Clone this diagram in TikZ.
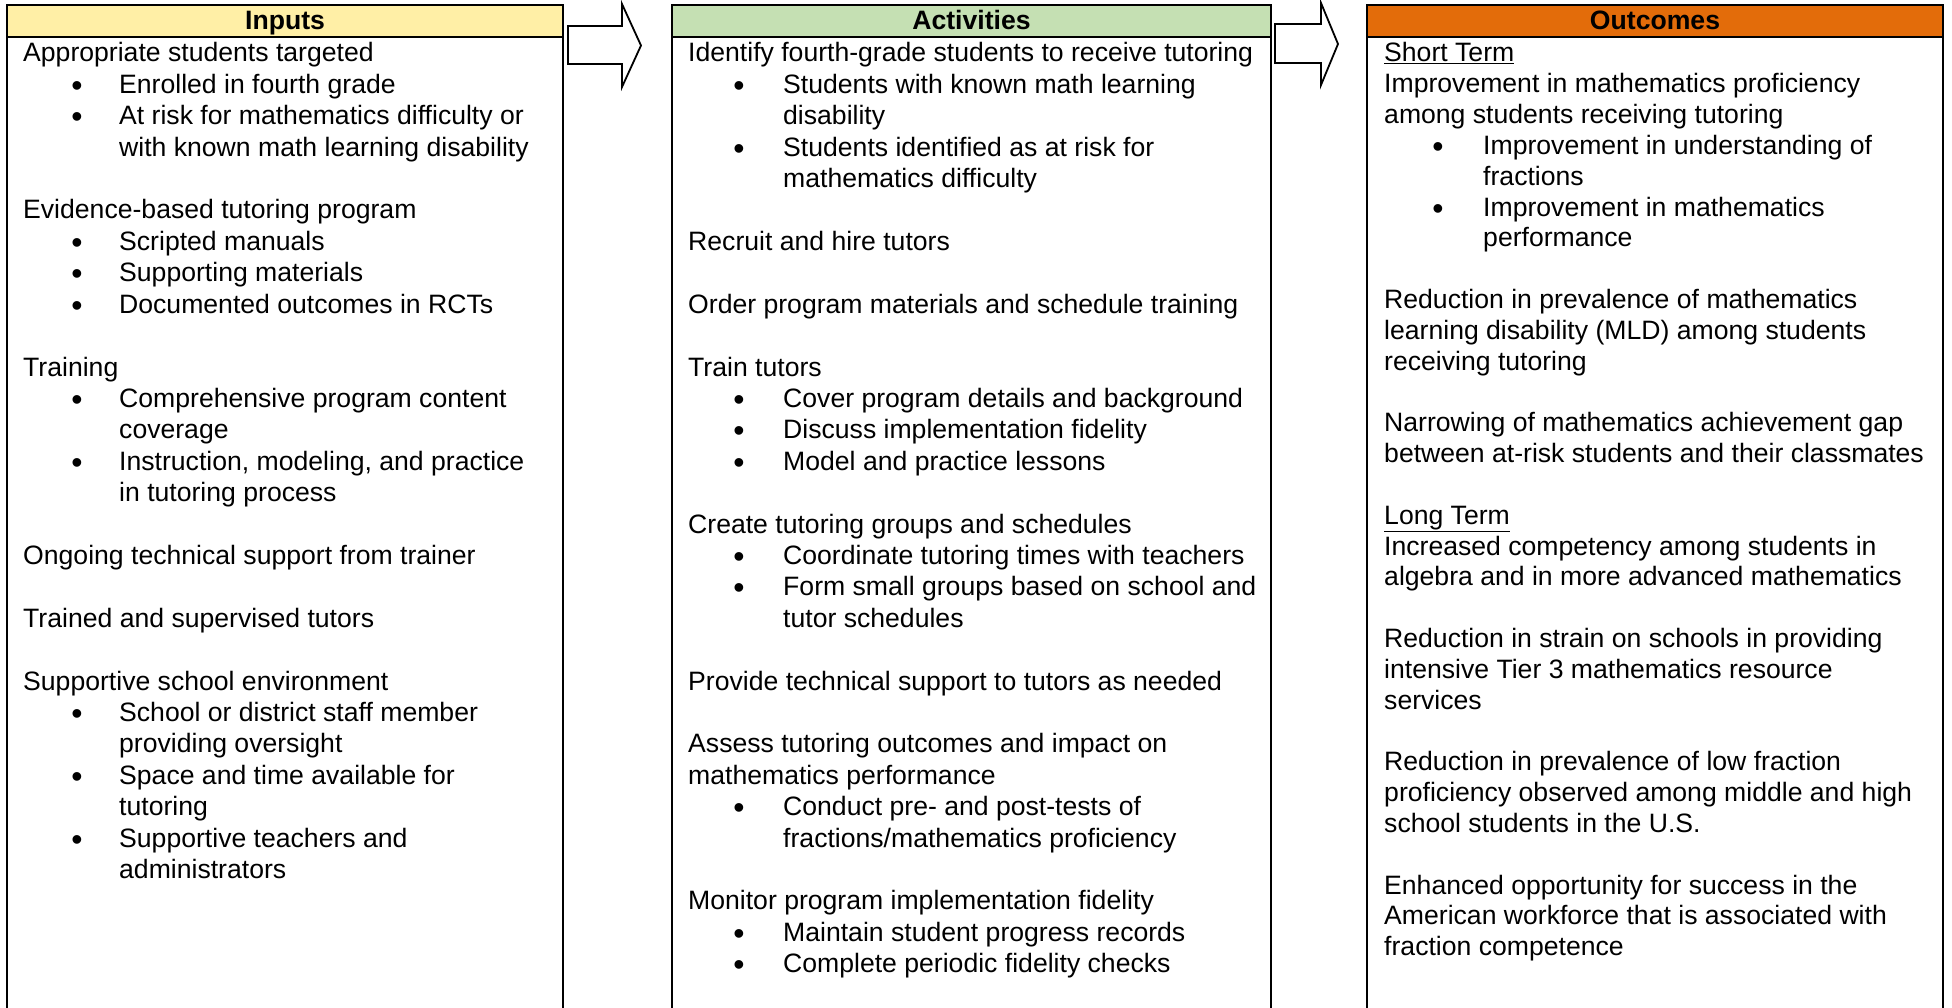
\documentclass[tikz,border=0pt]{standalone}
\usepackage{fontspec}
\setmainfont{Liberation Sans}
\newcommand\bodyfont{\fontsize{26.6pt}{31.4pt}\selectfont}
\newcommand\bulfont{\fontsize{32pt}{31.4pt}\selectfont}
\definecolor{hdrYellow}{HTML}{FFEFA6}
\definecolor{hdrGreen}{HTML}{C5E0B3}
\definecolor{hdrOrange}{HTML}{E36C0A}
\tikzset{
  txt/.style={anchor=base west, inner sep=0pt, font=\bodyfont},
  bul/.style={anchor=base, inner sep=0pt, font=\bulfont},
  hdrtxt/.style={anchor=base, inner sep=0pt, font=\bodyfont\bfseries},
  boxline/.style={draw=black, line width=2pt},
  blockarrow/.style={draw=black, fill=white, line width=1.8pt, line join=miter},
}
% line helpers: name, line index, text
\newcommand\Pl[3]{\node[txt] (#1) at (\cx,{\yo+\pitch*#2}) {#3};}
\newcommand\Bl[3]{\node[bul] (#1b) at (\bx,{\yo+\pitch*#2+3}) {\textbullet};
  \node[txt] (#1) at (\tx,{\yo+\pitch*#2}) {#3};}
\newcommand\Cl[3]{\node[txt] (#1) at (\tx,{\yo+\pitch*#2}) {#3};}
\begin{document}
\begin{tikzpicture}[x=1pt,y=-1pt]
\useasboundingbox (0,0) rectangle (1952,1008);
\fill[white] (0,0) rectangle (1952,1008);

% ---------- column frames ----------
\draw[boxline, fill=hdrYellow] (7,5) rectangle (563,37);
\draw[boxline] (7,37) -- (7,1015) (563,37) -- (563,1015);
\draw[boxline, fill=hdrGreen] (672,5) rectangle (1271,37);
\draw[boxline] (672,37) -- (672,1015) (1271,37) -- (1271,1015);
\draw[boxline, fill=hdrOrange] (1367,5) rectangle (1943,37);
\draw[boxline] (1367,37) -- (1367,1015) (1943,37) -- (1943,1015);

\node[hdrtxt] (hIn) at (285,30) {Inputs};
\node[hdrtxt] (hAct) at (971.5,30) {Activities};
\node[hdrtxt] (hOut) at (1655,30) {Outcomes};

% ---------- block arrows ----------
\draw[blockarrow] (568,26) -- (622,26) -- (622,4) -- (641,45.5) -- (622,87)
  -- (622,64) -- (568,64) -- cycle;
\draw[blockarrow] (1275,24) -- (1321,24) -- (1321,3) -- (1338,44) -- (1321,85)
  -- (1321,63) -- (1275,63) -- cycle;

% ---------- Inputs ----------
\def\cx{23}\def\bx{77}\def\tx{119}\def\yo{62}\def\pitch{31.4}
\Pl{i0}{0}{Appropriate students targeted}
\Bl{i1}{1}{Enrolled in fourth grade}
\Bl{i2}{2}{At risk for mathematics difficulty or}
\Cl{i3}{3}{with known math learning disability}
\Pl{i5}{5}{Evidence-based tutoring program}
\Bl{i6}{6}{Scripted manuals}
\Bl{i7}{7}{Supporting materials}
\Bl{i8}{8}{Documented outcomes in RCTs}
\Pl{i10}{10}{Training}
\Bl{i11}{11}{Comprehensive program content}
\Cl{i12}{12}{coverage}
\Bl{i13}{13}{Instruction, modeling, and practice}
\Cl{i14}{14}{in tutoring process}
\Pl{i16}{16}{Ongoing technical support from trainer}
\Pl{i18}{18}{Trained and supervised tutors}
\Pl{i20}{20}{Supportive school environment}
\Bl{i21}{21}{School or district staff member}
\Cl{i22}{22}{providing oversight}
\Bl{i23}{23}{Space and time available for}
\Cl{i24}{24}{tutoring}
\Bl{i25}{25}{Supportive teachers and}
\Cl{i26}{26}{administrators}

% ---------- Activities ----------
\def\cx{688}\def\bx{739}\def\tx{783}\def\yo{62}\def\pitch{31.4}
\Pl{a0}{0}{Identify fourth-grade students to receive tutoring}
\Bl{a1}{1}{Students with known math learning}
\Cl{a2}{2}{disability}
\Bl{a3}{3}{Students identified as at risk for}
\Cl{a4}{4}{mathematics difficulty}
\Pl{a6}{6}{Recruit and hire tutors}
\Pl{a8}{8}{Order program materials and schedule training}
\Pl{a10}{10}{Train tutors}
\Bl{a11}{11}{Cover program details and background}
\Bl{a12}{12}{Discuss implementation fidelity}
\Bl{a13}{13}{Model and practice lessons}
\Pl{a15}{15}{Create tutoring groups and schedules}
\Bl{a16}{16}{Coordinate tutoring times with teachers}
\Bl{a17}{17}{Form small groups based on school and}
\Cl{a18}{18}{tutor schedules}
\Pl{a20}{20}{Provide technical support to tutors as needed}
\Pl{a22}{22}{Assess tutoring outcomes and impact on}
\Pl{a23}{23}{mathematics performance}
\Bl{a24}{24}{Conduct pre- and post-tests of}
\Cl{a25}{25}{fractions/mathematics proficiency}
\Pl{a27}{27}{Monitor program implementation fidelity}
\Bl{a28}{28}{Maintain student progress records}
\Bl{a29}{29}{Complete periodic fidelity checks}

% ---------- Outcomes ----------
\def\cx{1384}\def\bx{1438}\def\tx{1483}\def\yo{62}\def\pitch{30.82}
\Pl{o0}{0}{\underline{Short Term}}
\Pl{o1}{1}{Improvement in mathematics proficiency}
\Pl{o2}{2}{among students receiving tutoring}
\Bl{o3}{3}{Improvement in understanding of}
\Cl{o4}{4}{fractions}
\Bl{o5}{5}{Improvement in mathematics}
\Cl{o6}{6}{performance}
\Pl{o8}{8}{Reduction in prevalence of mathematics}
\Pl{o9}{9}{learning disability (MLD) among students}
\Pl{o10}{10}{receiving tutoring}
\Pl{o12}{12}{Narrowing of mathematics achievement gap}
\Pl{o13}{13}{between at-risk students and their classmates}
\Pl{o15}{15}{\underline{Long Term}}
\Pl{o16}{16}{Increased competency among students in}
\Pl{o17}{17}{algebra and in more advanced mathematics}
\Pl{o19}{19}{Reduction in strain on schools in providing}
\Pl{o20}{20}{intensive Tier 3 mathematics resource}
\Pl{o21}{21}{services}
\Pl{o23}{23}{Reduction in prevalence of low fraction}
\Pl{o24}{24}{proficiency observed among middle and high}
\Pl{o25}{25}{school students in the U.S.}
\Pl{o27}{27}{Enhanced opportunity for success in the}
\Pl{o28}{28}{American workforce that is associated with}
\Pl{o29}{29}{fraction competence}
\end{tikzpicture}
\end{document}
